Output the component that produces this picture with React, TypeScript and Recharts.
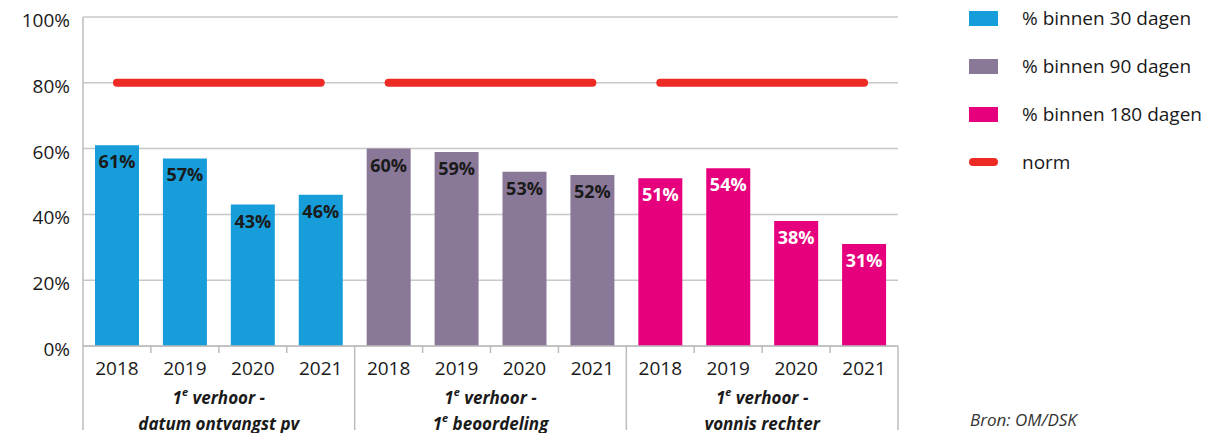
import { Bar, Cell, CartesianGrid, ComposedChart, LabelList, Line, XAxis, YAxis } from "recharts";

const years = ["2018", "2019", "2020", "2021"];
const groupLabels = [
  ["1e verhoor -", "datum ontvangst pv"],
  ["1e verhoor -", "1e beoordeling"],
  ["1e verhoor -", "vonnis rechter"],
];
const within30 = [61, 57, 43, 46];
const within90 = [60, 59, 53, 52];
const within180 = [51, 54, 38, 31];
const normValue = 80;
const seriesNames = ["% binnen 30 dagen", "% binnen 90 dagen", "% binnen 180 dagen"];
const yTicks = [0, 20, 40, 60, 80, 100];

const colors = ["#179dd9", "#8a7899", "#e6007e"];
const labelColors = ["#1a1a1a", "#1a1a1a", "#ffffff"];
const normColor = "#ee2a24";
const font = "'Open Sans', 'Noto Sans', sans-serif";
const ink = "#1a1a1a";

const W = 1216;
const H = 433;
const margin = { top: 17, right: 318, bottom: 0, left: 0 };
const yAxisW = 83;
const xAxisH = 87;
const bandW = (W - margin.left - margin.right - yAxisW) / 12;

const groupValues = [within30, within90, within180];
const data = groupValues.flatMap((vals, g) =>
  vals.map((v, i) => ({
    key: `${g}-${years[i]}`,
    year: years[i],
    group: g,
    value: v,
    n0: g === 0 ? normValue : null,
    n1: g === 1 ? normValue : null,
    n2: g === 2 ? normValue : null,
  }))
);

// "1e ..." -> superscript e
function Sup({ text }: { text: string }) {
  if (text.startsWith("1e ")) {
    return (
      <>
        <tspan>1</tspan>
        <tspan fontSize={11} dy={-6}>e</tspan>
        <tspan dy={6}>{text.slice(2)}</tspan>
      </>
    );
  }
  return <tspan>{text}</tspan>;
}

function YearTick({ x, y, payload }: any) {
  const i = payload.index as number;
  const d = data[i];
  const left = x - bandW / 2;
  const right = x + bandW / 2;
  const lc = "#bdbdbd";
  const g = d.group;
  return (
    <g>
      {i % 4 === 0 ? (
        <line x1={left} x2={left} y1={y} y2={y + 84} stroke={lc} strokeWidth={1.5} />
      ) : (
        <line x1={left} x2={left} y1={y} y2={y + 7} stroke={lc} strokeWidth={1.5} />
      )}
      {i === data.length - 1 && (
        <line x1={right} x2={right} y1={y} y2={y + 84} stroke={lc} strokeWidth={1.5} />
      )}
      <text x={x} y={y + 22} textAnchor="middle" dominantBaseline="central" fontSize={19} fill={ink} fontFamily={font}>
        {d.year}
      </text>
      {i % 4 === 1 &&
        groupLabels[g].map((line, k) => (
          <text
            key={k}
            x={right}
            y={y + 51 + k * 26}
            textAnchor="middle"
            dominantBaseline="central"
            fontSize={17}
            fontWeight="bold"
            fontStyle="italic"
            fill={ink}
            fontFamily={font}
          >
            <Sup text={line} />
          </text>
        ))}
    </g>
  );
}

function PctTick({ x, y, payload }: any) {
  return (
    <text x={x} y={y + 3} textAnchor="end" dominantBaseline="central" fontSize={19} fill={ink} fontFamily={font}>
      {payload.value}%
    </text>
  );
}

function BarLabel({ x, y, width, value, index }: any) {
  return (
    <text
      x={x + width / 2}
      y={y + 16}
      textAnchor="middle"
      dominantBaseline="central"
      fontSize={18}
      fontWeight="bold"
      fill={labelColors[data[index].group]}
      fontFamily={font}
    >
      {value}%
    </text>
  );
}

function LegendBox() {
  const rows = [...seriesNames.map((n, i) => ({ name: n, color: colors[i], line: false })), { name: "norm", color: normColor, line: true }];
  return (
    <div style={{ position: "absolute", left: 969, top: 0, fontFamily: font, fontSize: 19, color: ink }}>
      {rows.map((r, i) => (
        <div key={i} style={{ position: "absolute", top: 18 + i * 48 - 12, height: 24, display: "flex", alignItems: "center", whiteSpace: "nowrap" }}>
          <span
            style={{
              display: "inline-block",
              width: 29,
              height: r.line ? 8 : 15,
              borderRadius: r.line ? 4 : 0,
              background: r.color,
              marginRight: 24,
            }}
          />
          <span>{r.name}</span>
        </div>
      ))}
    </div>
  );
}

export default function App() {
  return (
    <div style={{ position: "absolute", left: 0, top: 0, width: W, height: H, background: "#fff" }}>
      <ComposedChart width={W} height={H} data={data} margin={margin}>
        <CartesianGrid vertical={false} stroke="#c8c8c8" strokeWidth={1.5} />
        <XAxis
          dataKey="key"
          height={xAxisH}
          interval={0}
          tickSize={0}
          tickMargin={0}
          tickLine={false}
          axisLine={{ stroke: "#bdbdbd", strokeWidth: 1.5 }}
          tick={<YearTick />}
        />
        <YAxis
          width={yAxisW}
          domain={[0, 100]}
          ticks={yTicks}
          tickSize={0}
          tickMargin={13}
          tickLine={false}
          axisLine={{ stroke: "#bdbdbd", strokeWidth: 1.5 }}
          tick={<PctTick />}
        />
        <Bar dataKey="value" barSize={44} isAnimationActive={false}>
          {data.map((d, i) => (
            <Cell key={i} fill={colors[d.group]} />
          ))}
          <LabelList dataKey="value" content={<BarLabel />} />
        </Bar>
        {["n0", "n1", "n2"].map((k) => (
          <Line
            key={k}
            dataKey={k}
            stroke={normColor}
            strokeWidth={8}
            strokeLinecap="round"
            dot={false}
            activeDot={false}
            connectNulls={false}
            isAnimationActive={false}
          />
        ))}
      </ComposedChart>
      <LegendBox />
      <div
        style={{
          position: "absolute",
          left: 970,
          top: 408,
          fontFamily: font,
          fontSize: 17,
          fontStyle: "italic",
          color: "#333",
        }}
      >
        Bron: OM/DSK
      </div>
    </div>
  );
}
